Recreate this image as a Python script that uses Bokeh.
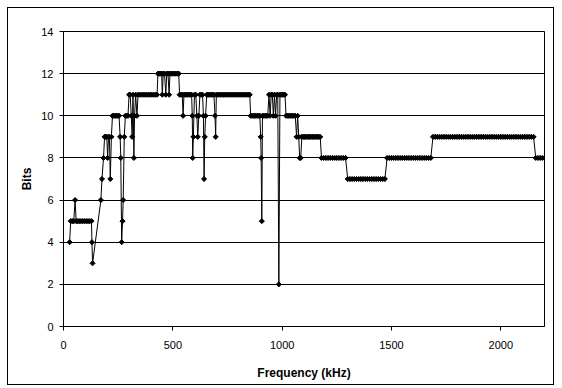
import math
from bokeh.plotting import figure
from bokeh.models import Range1d, FixedTicker, ColumnDataSource
from bokeh.embed import file_html
from bokeh.resources import INLINE

# ---- data ----
freq_a = [28, 33, 40, 47, 53, 58, 65, 72, 80, 88, 96, 104, 112, 120, 128, 130, 133]
bits_a = [4, 5, 5, 5, 6, 5, 5, 5, 5, 5, 5, 5, 5, 5, 5, 4, 3]

freq_b = [171, 176, 183, 188, 193, 198, 202, 206, 210, 214, 219, 224, 230, 236, 242, 248, 254,
          259, 262, 266, 270, 273, 278, 283, 289, 295, 300]
bits_b = [6, 7, 8, 9, 9, 9, 8, 9, 9, 7, 9, 10, 10, 10, 10, 10, 10,
          9, 8, 4, 5, 6, 9, 10, 10, 10, 11]

freq_c = [305, 310, 314, 318, 322, 325, 330, 336, 341, 348, 356, 364, 372, 380, 388, 396, 404, 412, 420, 428]
bits_c = [11, 10, 9, 11, 8, 10, 11, 10, 11, 11, 11, 11, 11, 11, 11, 11, 11, 11, 11, 11]

freq_d = [432, 438, 444, 449, 452, 456, 462, 468, 472, 478, 483, 487, 493, 500, 507, 514, 521, 527]
bits_d = [12, 12, 12, 12, 11, 12, 12, 11, 12, 12, 11, 12, 12, 12, 12, 12, 12, 12]

freq_e = [531, 537, 543, 547, 551, 557, 563, 569, 575, 581, 586, 589, 591, 594, 599, 605, 610, 614,
          619, 624, 630, 636, 640, 643, 646, 650, 655, 660]
bits_e = [11, 11, 11, 10, 11, 11, 11, 11, 11, 11, 11, 10, 8, 9, 11, 11, 10, 9,
          10, 11, 11, 11, 10, 7, 9, 10, 11, 11]

freq_f = [664, 670, 676, 682, 688, 693, 696, 699, 705, 712, 719, 726, 733, 740, 747, 754, 761, 768,
          775, 782, 789, 796, 803, 810, 817, 824, 831, 838, 845, 852]
bits_f = [11, 11, 11, 11, 11, 10, 9, 11, 11, 11, 11, 11, 11, 11, 11, 11, 11, 11,
          11, 11, 11, 11, 11, 11, 11, 11, 11, 11, 11, 11]

freq_g = [856, 862, 868, 874, 880, 886, 892, 898, 902, 904, 907, 910, 916, 922, 928, 934, 940, 945,
          950, 955, 960, 965, 970, 975, 980, 985, 990, 996, 1002, 1008, 1013]
bits_g = [10, 10, 10, 10, 10, 10, 10, 10, 9, 8, 5, 10, 10, 10, 10, 10, 11, 10,
          11, 11, 10, 11, 10, 11, 11, 2, 11, 11, 11, 11, 11]

freq_h = [1018, 1024, 1030, 1036, 1042, 1048, 1054, 1060, 1066, 1071, 1076, 1080, 1085, 1090, 1096,
          1102, 1108, 1114, 1120, 1126, 1132, 1138, 1144, 1150, 1156, 1162, 1168, 1174]
bits_h = [10, 10, 10, 10, 10, 10, 10, 10, 9, 10, 9, 8, 8, 9, 9,
          9, 9, 9, 9, 9, 9, 9, 9, 9, 9, 9, 9, 9]

freq_i = [1180, 1190, 1200, 1210, 1220, 1230, 1240, 1250, 1260, 1270, 1280, 1290]
bits_i = [8, 8, 8, 8, 8, 8, 8, 8, 8, 8, 8, 8]

freq_j = [1300, 1310, 1320, 1330, 1340, 1350, 1360, 1370, 1380, 1390, 1400, 1410, 1420, 1430, 1440,
          1450, 1460, 1470]
bits_j = [7, 7, 7, 7, 7, 7, 7, 7, 7, 7, 7, 7, 7, 7, 7, 7, 7, 7]

freq_k = [1480, 1490, 1500, 1510, 1520, 1530, 1540, 1550, 1560, 1570, 1580, 1590, 1600, 1610, 1620,
          1630, 1640, 1650, 1660, 1670, 1680]
bits_k = [8, 8, 8, 8, 8, 8, 8, 8, 8, 8, 8, 8, 8, 8, 8, 8, 8, 8, 8, 8, 8]

freq_l = [1690, 1700, 1710, 1720, 1730, 1740, 1750, 1760, 1770, 1780, 1790, 1800, 1810, 1820, 1830,
          1840, 1850, 1860, 1870, 1880, 1890, 1900, 1910, 1920, 1930, 1940, 1950, 1960, 1970, 1980,
          1990, 2000, 2010, 2020, 2030, 2040, 2050, 2060, 2070, 2080, 2090, 2100, 2110, 2120, 2130,
          2140, 2150]
bits_l = [9, 9, 9, 9, 9, 9, 9, 9, 9, 9, 9, 9, 9, 9, 9,
          9, 9, 9, 9, 9, 9, 9, 9, 9, 9, 9, 9, 9, 9, 9,
          9, 9, 9, 9, 9, 9, 9, 9, 9, 9, 9, 9, 9, 9, 9,
          9, 9]

freq_m = [2160, 2170, 2180, 2190, 2200]
bits_m = [8, 8, 8, 8, 8]

x_ticks = [0, 500, 1000, 1500, 2000]
y_ticks = [0, 2, 4, 6, 8, 10, 12, 14]
x_title = "Frequency (kHz)"
y_title = "Bits"

freq_khz = (freq_a + freq_b + freq_c + freq_d + freq_e + freq_f + freq_g + freq_h +
            freq_i + freq_j + freq_k + freq_l + freq_m)
bits = (bits_a + bits_b + bits_c + bits_d + bits_e + bits_f + bits_g + bits_h +
        bits_i + bits_j + bits_k + bits_l + bits_m)

src = ColumnDataSource(data=dict(freq=freq_khz, bits=bits))

FONT = "Liberation Sans"

p = figure(width=547, height=378, output_backend="svg", toolbar_location=None,
           x_range=Range1d(0, 2200), y_range=Range1d(0, 14),
           min_border_left=55, min_border_right=11, min_border_top=23, min_border_bottom=60)
p.styles = {"border": "1px solid black", "margin": "7px 0px 0px 7px"}
p.background_fill_color = "white"
p.border_fill_color = "white"
p.outline_line_color = "black"
p.outline_line_width = 1
p.outline_line_alpha = 1

p.line("freq", "bits", source=src, line_color="black", line_width=1)
p.scatter("freq", "bits", source=src, marker="square", size=3.6, angle=math.pi / 4,
          fill_color="black", line_color="black", line_width=1)

# grid
p.xgrid.visible = False
p.ygrid.ticker = FixedTicker(ticks=y_ticks)
p.ygrid.grid_line_color = "black"
p.ygrid.grid_line_width = 1

# axes
for ax in (p.xaxis[0], p.yaxis[0]):
    ax.axis_line_color = "black"
    ax.major_tick_line_color = "black"
    ax.major_tick_in = 0
    ax.major_tick_out = 4
    ax.minor_tick_line_color = None
    ax.major_label_text_font = FONT
    ax.major_label_text_font_size = "11px"
    ax.major_label_text_color = "black"
    ax.axis_label_text_font = FONT
    ax.axis_label_text_font_size = "12px"
    ax.axis_label_text_font_style = "bold"
    ax.axis_label_text_color = "black"

p.xaxis.ticker = FixedTicker(ticks=x_ticks)
p.yaxis.ticker = FixedTicker(ticks=y_ticks)
p.xaxis.axis_label = x_title
p.yaxis.axis_label = y_title
p.xaxis.major_label_standoff = 10
p.yaxis.major_label_standoff = 6
p.xaxis.axis_label_standoff = 14
p.yaxis.axis_label_standoff = 4

open("out.html", "w").write(file_html(p, INLINE))
